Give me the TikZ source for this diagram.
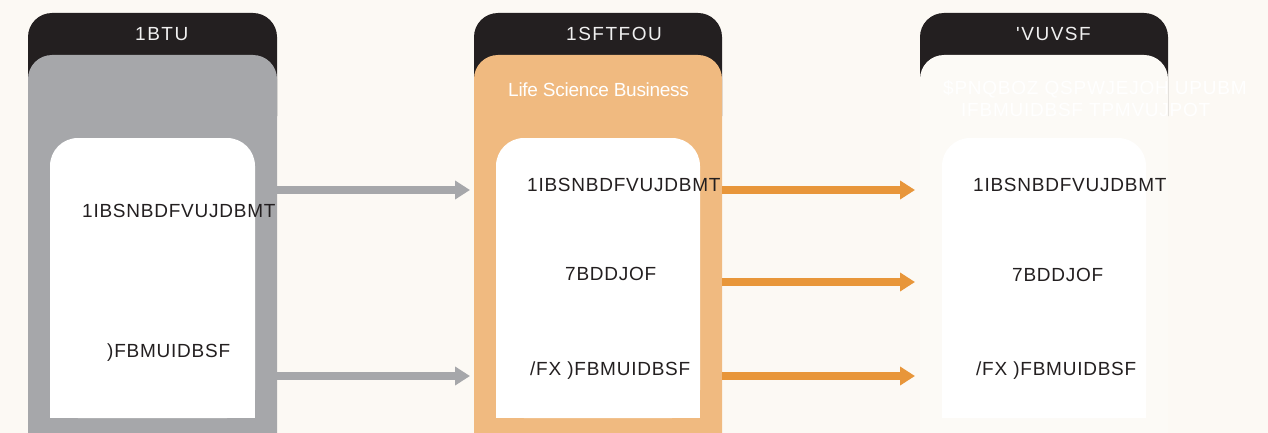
\documentclass[tikz,border=0pt]{standalone}
\usepackage{fontspec}
\usetikzlibrary{arrows.meta}
\setmainfont{Liberation Sans}
\newfontfamily\labfont[LetterSpace=4]{Liberation Sans}
\newfontfamily\headfont[LetterSpace=8]{Liberation Sans}
\newfontfamily\tagfont[LetterSpace=-1.5]{Liberation Sans}
\definecolor{bgcol}{HTML}{FCF9F4}
\definecolor{headcol}{HTML}{231F20}
\definecolor{graycol}{HTML}{A6A7AA}
\definecolor{orangepanel}{HTML}{F0BA80}
\definecolor{orangearrow}{HTML}{E8963A}
\definecolor{futurepanel}{HTML}{FCFAF6}
\definecolor{inkcol}{HTML}{231F20}
\tikzset{
  header/.style={fill=headcol, rounded corners=24pt},
  panel/.style={rounded corners=24pt},
  innerbox/.style={fill=white, rounded corners=28pt},
  headtext/.style={anchor=base west, inner sep=0pt, text=white!94!black,
    font=\headfont\fontsize{19}{22}\selectfont},
  itemtext/.style={anchor=base west, inner sep=0pt, text=inkcol,
    font=\labfont\fontsize{19}{22}\selectfont},
  covertext/.style={anchor=base west, inner sep=0pt, text=white,
    font=\labfont\fontsize{19}{22}\selectfont},
  flow/.style={line width=8pt, -{Triangle[length=15pt,width=18pt]}},
}
\begin{document}
\begin{tikzpicture}[x=1pt,y=-1pt]
\useasboundingbox (0,0) rectangle (1268,433);
\fill[bgcol] (0,0) rectangle (1268,433);
\clip (0,0) rectangle (1268,433);

% ---- column: past ----
\fill[header] (28,13) rectangle (277,140);
\fill[graycol, panel] (28,55) rectangle (277,480);
\fill[innerbox] (50,138) rectangle (255,418);
\fill[white] (50,300) rectangle (255,418);
\node[headtext] (pastH) at (135,41) {1BTU};
\node[itemtext] (pastA) at (82,217) {1IBSNBDFVUJDBMT};
\node[itemtext] (pastB) at (107,357) {)FBMUIDBSF};

% ---- column: present ----
\fill[header] (474,13) rectangle (722,140);
\fill[orangepanel, panel] (474,55) rectangle (722,480);
\fill[innerbox] (496,138) rectangle (700,418);
\fill[white] (496,300) rectangle (700,418);
\node[headtext] (presH) at (566,41) {1SFTFOU};
\node[anchor=base west, inner sep=0pt, text=white,
  font=\tagfont\fontsize{19}{22}\selectfont] (presTag) at (508,97) {Life Science Business};
\node[itemtext] (presA) at (527,191) {1IBSNBDFVUJDBMT};
\node[itemtext] (presB) at (565,280) {7BDDJOF};
\node[itemtext] (presC) at (530,375) {/FX )FBMUIDBSF};

% ---- column: future ----
\fill[header] (920,13) rectangle (1168,140);
\fill[futurepanel, panel] (920,55) rectangle (1168,480);
\fill[innerbox] (942,138) rectangle (1146,418);
\fill[white] (942,300) rectangle (1146,418);
\node[headtext] (futH) at (1016,41) {'VUVSF};
\node[covertext] (futTag1) at (943,95) {\$PNQBOZ QSPWJEJOH UPUBM};
\node[covertext] (futTag2) at (961,117) {IFBMUIDBSF TPMVUJPOT};
\node[itemtext] (futA) at (973,191) {1IBSNBDFVUJDBMT};
\node[itemtext] (futB) at (1012,281) {7BDDJOF};
\node[itemtext] (futC) at (976,375) {/FX )FBMUIDBSF};

% ---- connector end points on the column edges ----
\coordinate (pastOut1) at (277,190);
\coordinate (pastOut2) at (277,376);
\coordinate (presIn1) at (470,190);
\coordinate (presIn2) at (470,376);
\coordinate (presOut1) at (722,190);
\coordinate (presOut2) at (722,282);
\coordinate (presOut3) at (722,376);
\coordinate (futIn1) at (915,190);
\coordinate (futIn2) at (915,282);
\coordinate (futIn3) at (915,376);

\draw[flow, graycol] (pastOut1) -- (presIn1);
\draw[flow, graycol] (pastOut2) -- (presIn2);
\draw[flow, orangearrow] (presOut1) -- (futIn1);
\draw[flow, orangearrow] (presOut2) -- (futIn2);
\draw[flow, orangearrow] (presOut3) -- (futIn3);
\end{tikzpicture}
\end{document}
